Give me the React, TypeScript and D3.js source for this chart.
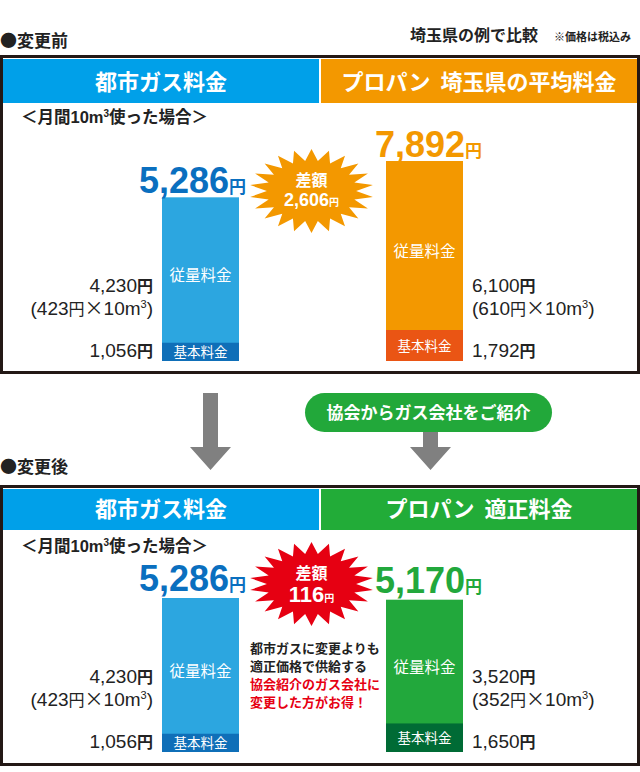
import React from "react";
import * as d3 from "d3";

// 料金データ（月間10m³使用時）
const sides = ["city", "propane"];
const beforeHeaders = ["都市ガス料金", "プロパン  埼玉県の平均料金"];
const afterHeaders = ["都市ガス料金", "プロパン  適正料金"];
const beforeTotals = [5286, 7892];
const beforeBasic = [1056, 1792];
const beforeUsage = [4230, 6100];
const beforeUnit = [423, 610];
const afterTotals = [5286, 5170];
const afterBasic = [1056, 1650];
const afterUsage = [4230, 3520];
const afterUnit = [423, 352];
const noteLines = ["都市ガスに変更よりも", "適正価格で供給する", "協会紹介のガス会社に", "変更した方がお得！"];

const JP = "'Noto Sans CJK JP', sans-serif";
const NUM = "'Liberation Sans', Arial, sans-serif";
const fmt = d3.format(",");

const BAR_W = 77;
const x = d3.scalePoint().domain(sides).range([200.5, 424.5]);
const basicScale = d3.scaleLinear().domain([0, 1792]).range([0, 31]);

function starPath(rx, ry, spikes, inner) {
  const pts = d3.range(spikes * 2).map((i) => {
    const a = (i / (spikes * 2)) * 2 * Math.PI - Math.PI / 2;
    const r = i % 2 === 0 ? 1 : inner;
    return [Math.cos(a) * rx * r, Math.sin(a) * ry * r];
  });
  return d3.line().curve(d3.curveLinearClosed)(pts);
}

function Yen({ v, size, yen, color = "#222", weight = "normal" }) {
  return (
    <>
      <tspan fontFamily={NUM} fontSize={size} fill={color} fontWeight={weight}>{fmt(v)}</tspan>
      <tspan fontFamily={JP} fontSize={yen} fill={color} fontWeight="bold">円</tspan>
    </>
  );
}

function Unit({ v }) {
  return (
    <>
      <tspan fontFamily={NUM}>({v}</tspan>
      <tspan fontFamily={JP} fontSize={16}>円</tspan>
      <tspan fontFamily={JP}>×</tspan>
      <tspan fontFamily={NUM}>10m</tspan>
      <tspan fontFamily={NUM} fontSize={11} dy={-7}>3</tspan>
      <tspan fontFamily={NUM} dy={7}>)</tspan>
    </>
  );
}

function Panel({ lay, headers, totals, basic, usage, unit, colors }) {
  const y = d3.scaleSqrt().domain([0, d3.max(totals)]).range([0, lay.maxBar]);
  const cx = (x("city") + x("propane")) / 2;
  const diff = Math.abs(totals[1] - totals[0]);
  return (
    <g>
      <rect x={1.5} y={lay.top + 1.5} width={637} height={lay.bottom - lay.top - 3} fill="#fff" stroke="#231815" strokeWidth={3} />
      <rect x={3} y={lay.hTop} width={316} height={lay.hBot - lay.hTop} fill="#00a0e9" />
      <rect x={321} y={lay.hTop} width={316} height={lay.hBot - lay.hTop} fill={colors.header} />
      {headers.map((h, i) => (
        <text key={h} x={i === 0 ? 161 : 479} y={lay.hBot - 13} textAnchor="middle" fill="#fff" fontFamily={JP} fontWeight="bold" fontSize={22} style={{ whiteSpace: "pre" }}>{h}</text>
      ))}
      <text x={21} y={lay.sub} fontFamily={JP} fontSize={16.5} fontWeight="bold" fill="#222">
        ＜月間<tspan fontFamily={NUM}>10m</tspan><tspan fontFamily={NUM} fontSize={10} dy={-6}>3</tspan><tspan dy={6}>使った場合＞</tspan>
      </text>
      {sides.map((s, i) => {
        const top = lay.base - y(totals[i]);
        const bh = basicScale(basic[i]);
        const left = x(s) - BAR_W / 2;
        const lx = i === 0 ? left - 9 : left + BAR_W + 9;
        const anchor = i === 0 ? "end" : "start";
        return (
          <g key={s}>
            <rect x={left} y={top} width={BAR_W} height={lay.base - top} fill={colors.bar[i]} />
            <rect x={left} y={lay.base - bh} width={BAR_W} height={bh} fill={colors.basic[i]} />
            <text x={x(s)} y={(top + lay.base - bh) / 2 + 11} textAnchor="middle" fill="#fff" fontFamily={JP} fontSize={15.5}>従量料金</text>
            <text x={x(s)} y={lay.base - bh / 2 + 5} textAnchor="middle" fill="#fff" fontFamily={JP} fontSize={13.5}>基本料金</text>
            <text x={x(s) + (i === 0 ? -8 : 4)} y={top - lay.gap} textAnchor="middle">
              <Yen v={totals[i]} size={36} yen={17} color={colors.value[i]} weight="bold" />
            </text>
            <text x={lx} y={lay.base - 69} textAnchor={anchor} fill="#222" fontSize={19}>
              <Yen v={usage[i]} size={19} yen={16} />
            </text>
            <text x={lx} y={lay.base - 46} textAnchor={anchor} fill="#222" fontSize={19}>
              <Unit v={unit[i]} />
            </text>
            <text x={lx} y={lay.base - 4} textAnchor={anchor} fill="#222" fontSize={19}>
              <Yen v={basic[i]} size={19} yen={16} />
            </text>
          </g>
        );
      })}
      <g transform={`translate(${cx - 1},${lay.starCy})`}>
        <path d={starPath(62, 42, 22, 0.72)} fill={colors.star} />
        <text y={-5} textAnchor="middle" fill="#fff" fontFamily={JP} fontWeight="bold" fontSize={16}>差額</text>
        <text y={lay.amtDy} textAnchor="middle" fill="#fff">
          <Yen v={diff} size={lay.amtSize} yen={10} color="#fff" weight="bold" />
        </text>
      </g>
    </g>
  );
}

function Arrow({ cx, y0, y1 }) {
  const p = d3.path();
  p.moveTo(cx - 7.5, y0);
  p.lineTo(cx + 7.5, y0);
  p.lineTo(cx + 7.5, y1 - 23);
  p.lineTo(cx + 20.5, y1 - 23);
  p.lineTo(cx, y1);
  p.lineTo(cx - 20.5, y1 - 23);
  p.lineTo(cx - 7.5, y1 - 23);
  p.closePath();
  return <path d={p.toString()} fill="#808080" />;
}

export default function App() {
  const before = { top: 55, bottom: 374, hTop: 59, hBot: 103, sub: 123, base: 361, maxBar: 200, gap: 4, starCy: 191, amtDy: 15, amtSize: 18 };
  const after = { top: 485, bottom: 766, hTop: 489, hBot: 530, sub: 552, base: 752, maxBar: 154, gap: 7, starCy: 584, amtDy: 18, amtSize: 22 };
  return (
    <div style={{ position: "absolute", left: 0, top: 0 }}>
      <svg width={640} height={772} style={{ display: "block", background: "#fff" }}>
        <text x={0} y={47} fontFamily={JP} fontSize={17} fontWeight="bold" fill="#222">●変更前</text>
        <text x={538} y={41} textAnchor="end" fontFamily={JP} fontSize={16} fontWeight="bold" fill="#222">埼玉県の例で比較</text>
        <text x={631} y={41} textAnchor="end" fontFamily={JP} fontSize={11} fontWeight="bold" fill="#222">※価格は税込み</text>
        <Panel
          lay={before}
          headers={beforeHeaders}
          totals={beforeTotals}
          basic={beforeBasic}
          usage={beforeUsage}
          unit={beforeUnit}
          colors={{ header: "#f39800", bar: ["#2ca6e0", "#f39800"], basic: ["#0f6fb8", "#ea5514"], value: ["#0a6fbf", "#f39800"], star: "#f39800" }}
        />
        <Arrow cx={210.5} y0={393} y1={470} />
        <Arrow cx={430.5} y0={420} y1={470} />
        <rect x={305} y={393} width={247} height={39} rx={19.5} fill="#22a83a" />
        <text x={428.5} y={419} textAnchor="middle" fill="#fff" fontFamily={JP} fontWeight="bold" fontSize={17}>協会からガス会社をご紹介</text>
        <text x={0} y={473} fontFamily={JP} fontSize={17} fontWeight="bold" fill="#222">●変更後</text>
        <Panel
          lay={after}
          headers={afterHeaders}
          totals={afterTotals}
          basic={afterBasic}
          usage={afterUsage}
          unit={afterUnit}
          colors={{ header: "#22ac38", bar: ["#2ca6e0", "#22a83c"], basic: ["#0f6fb8", "#006b35"], value: ["#0a6fbf", "#22a83c"], star: "#e60012" }}
        />
        {noteLines.map((t, i) => (
          <text key={t} x={250} y={653 + i * 18} fontFamily={JP} fontSize={13} fontWeight="bold" fill={i < 2 ? "#222" : "#e60012"}>{t}</text>
        ))}
      </svg>
    </div>
  );
}
